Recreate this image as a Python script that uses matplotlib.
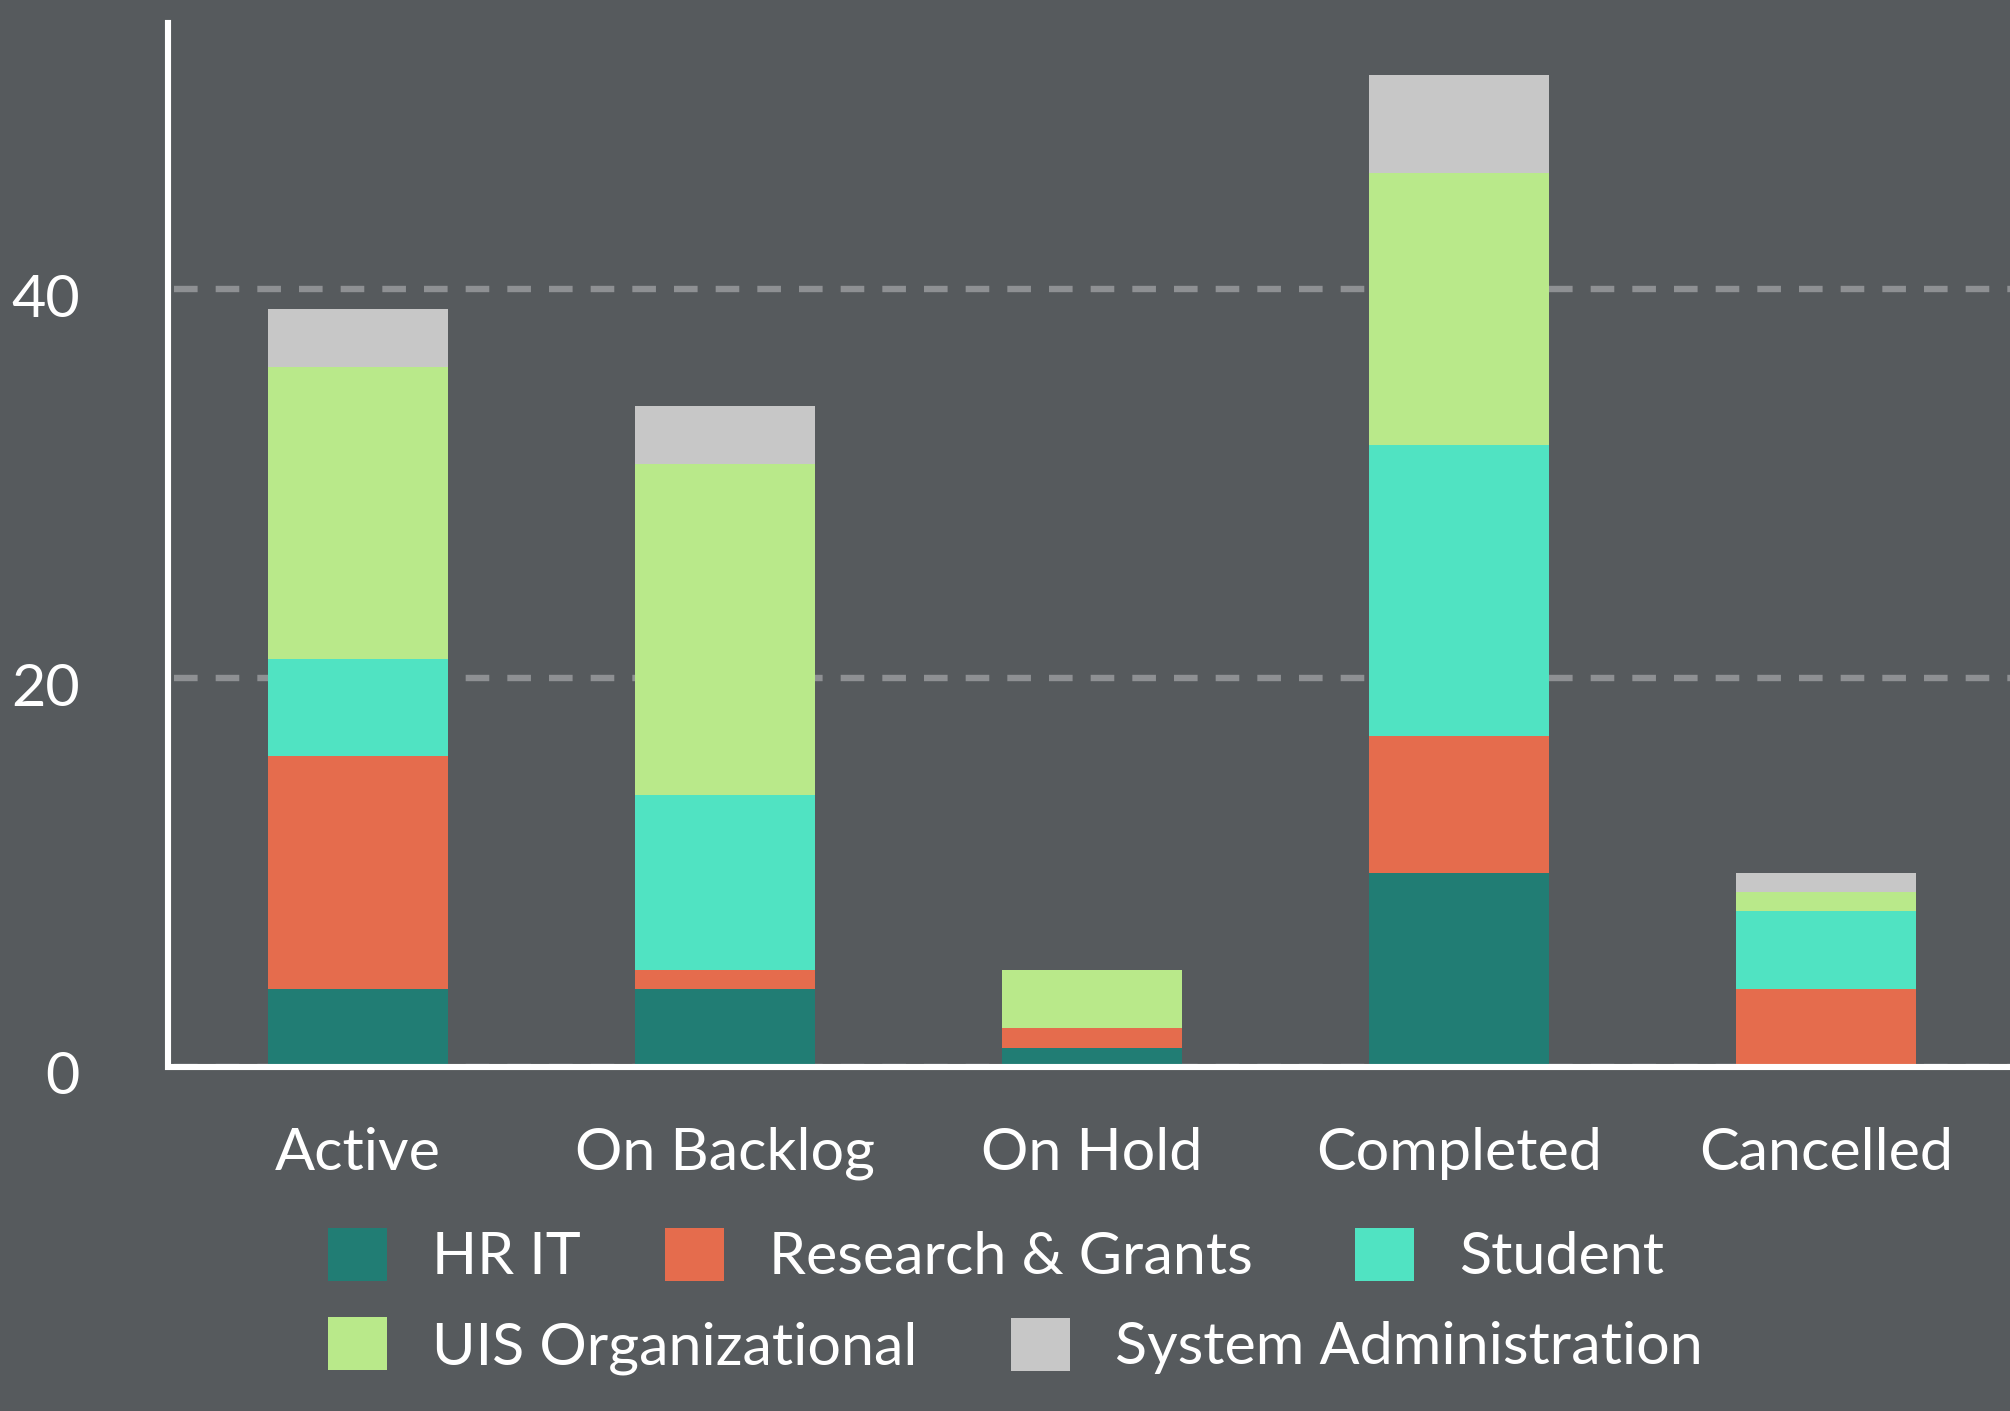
import matplotlib
matplotlib.use("Agg")
import matplotlib.pyplot as plt
from matplotlib.patches import Patch
from matplotlib.transforms import ScaledTranslation
import numpy as np

categories = ["Active", "On Backlog", "On Hold", "Completed", "Cancelled"]
series_names = ["HR IT", "Research & Grants", "Student", "UIS Organizational", "System Administration"]
hr_it = [4, 4, 1, 10, 0]
research_grants = [12, 1, 1, 7, 4]
student = [5, 9, 0, 15, 4]
uis_org = [15, 17, 3, 14, 1]
sys_admin = [3, 3, 0, 5, 1]
y_ticks = [0, 20, 40]

colors = ["#217d74", "#e56c4d", "#50e3c2", "#b9e98a", "#c7c7c7"]
bg = "#565a5d"
FS = 42.7

plt.rcParams['font.family'] = ['Lato', 'DejaVu Sans']
plt.rcParams['lines.scale_dashes'] = False

W, H = 2010, 1411
fig = plt.figure(figsize=(W / 100, H / 100), dpi=100, facecolor=bg)
ax = fig.add_axes([174 / W, 1 - 1067 / H, (W - 174) / W, (1067 - 23) / H])
ax.set_facecolor(bg)

series = [hr_it, research_grants, student, uis_org, sys_admin]
x = np.arange(len(categories))
bottom = np.zeros(len(categories))
for vals, c, name in zip(series, colors, series_names):
    ax.bar(x, vals, width=0.49, bottom=bottom, color=c, label=name, zorder=2)
    bottom += np.array(vals)

ax.set_xlim(-0.5, len(categories) - 0.5)
ax.set_ylim(0, 53.7)
ax.set_yticks(y_ticks)
ax.set_yticklabels([])
ax.set_xticks(x)
ax.set_xticklabels(categories)

ax.tick_params(axis='y', length=0, pad=0)
ax.tick_params(axis='x', length=0, pad=43, labelsize=FS, labelcolor='white')

# y tick labels, right-aligned, slightly below their grid lines
ylab_tr = ax.get_yaxis_transform() + ScaledTranslation(-94 / 100, -6 / 100, fig.dpi_scale_trans)
for t in y_ticks:
    ax.text(0, t, str(t), transform=ylab_tr, ha='right', va='center_baseline',
            fontsize=FS, color='white', clip_on=False)

ax.yaxis.grid(True, color="#8e9093", linewidth=4.6, linestyle=(0, (17, 13)), zorder=0)
ax.xaxis.grid(False)
ax.set_axisbelow(True)

for s in ['top', 'right']:
    ax.spines[s].set_visible(False)
for s in ['left', 'bottom']:
    ax.spines[s].set_color('white')
    ax.spines[s].set_linewidth(4.4)
    ax.spines[s].set_zorder(3)
ax.spines['left'].set_position(('outward', 4.3))

# legend: flow layout, one entry each
handles = [Patch(facecolor=c, edgecolor='none') for c in colors]
common = dict(frameon=False, fontsize=FS, labelcolor='white', handlelength=1.0,
              handleheight=1.0, handletextpad=0.75,
              borderpad=0, borderaxespad=0, loc='center left')
leg_x = [328, 665, 1355, 328, 1011]
leg_y = [1256, 1256, 1256, 1346, 1346]
for h, name, lx, ly in zip(handles, series_names, leg_x, leg_y):
    fig.legend([h], [name], bbox_to_anchor=(lx / W, 1 - ly / H), **common)

fig.savefig("out.png", dpi=100, facecolor=bg)
